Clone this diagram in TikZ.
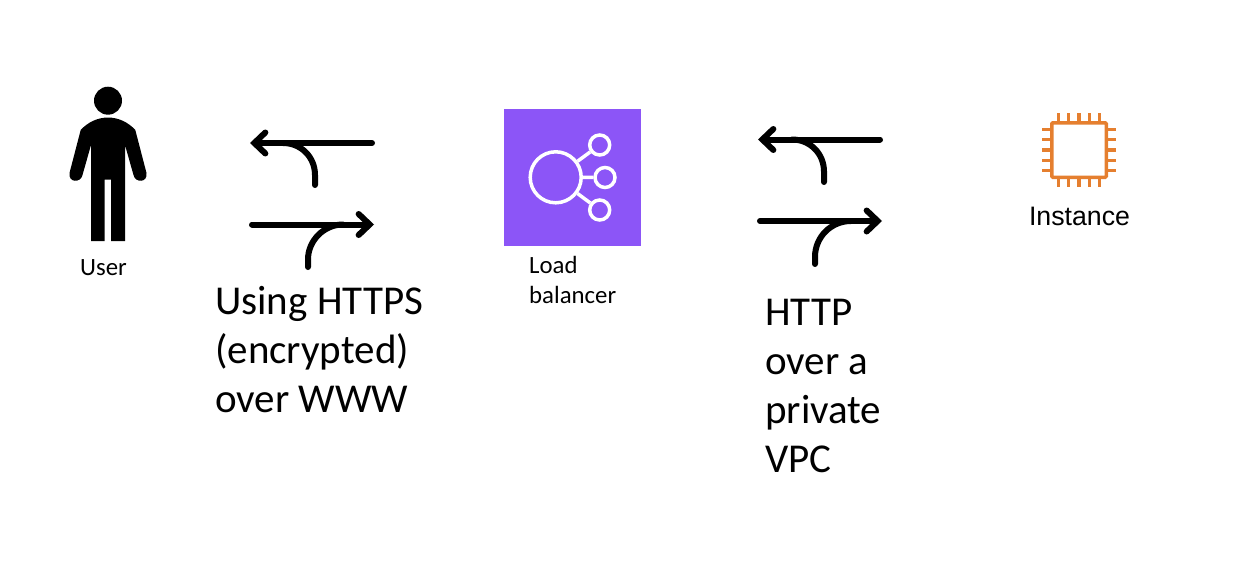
\documentclass[tikz,border=0pt]{standalone}
\usepackage{xcolor}
\usepackage{fontspec}
\setmainfont{Carlito}
\newfontfamily\arialfont{Liberation Sans}
\usetikzlibrary{arrows.meta, calc}
\definecolor{lbpurple}{HTML}{8C55F7}
\definecolor{chiporange}{HTML}{E57F2F}

\begin{document}
\begin{tikzpicture}[
        x=1pt, y=-1pt,
        big/.style={anchor=north west, inner sep=0pt, align=left, font=\fontsize{41}{49}\selectfont},
        small/.style={inner sep=0pt, align=left, font=\fontsize{24.8}{30}\selectfont},
        arr/.style={-{Straight Barb[length=11pt, width=21pt, line cap=round, line width=6pt]}, line width=6pt, line cap=round},
        branch/.style={line width=6pt, line cap=round},
        hubring/.style={draw=white, circle, line width=3.5pt, inner sep=0pt},
        spoke/.style={draw=white, line width=3.5pt},
        pin/.style={draw=chiporange, line width=3.5pt}
      ]
        \useasboundingbox (0,0) rectangle (1248,586);
        % user
        \fill[black] (108,100.7) circle (14);
        \fill[black] (80.7,130) .. controls (88,122) and (98,117.5) .. (108,117.5)
          .. controls (118,117.5) and (128,122) .. (135.3,130)
          -- (146.5,173) .. controls (148,183) and (135,183) .. (133.5,175)
          -- (125,145) -- (125,241) -- (111,241) -- (111,179.5) -- (104.5,179.5)
          -- (104.5,241) -- (91,241) -- (91,145) -- (82.5,175)
          .. controls (81,183) and (68,183) .. (69.5,173) -- cycle;
        \node[small] (user) at (103.5,267.5) {User};
        % left pair
        \coordinate (l1a) at (372,143);
        \coordinate (l1b) at (250,143);
        \coordinate (l1c) at (315,185);
        \coordinate (l1d) at (283,143);
        \coordinate (l2a) at (252,224.5);
        \coordinate (l2b) at (374,224.5);
        \coordinate (l2c) at (308,267);
        \coordinate (l2d) at (343,224.5);
        \draw[arr] (l1a) -- (l1b);
        \draw[branch] (l1c) -- ++(0,-10) .. controls +(0,-18) and +(18,0) .. (l1d);
        \draw[arr] (l2a) -- (l2b);
        \draw[branch] (l2c) -- ++(0,-7.5) .. controls +(0,-19) and +(-19,0) .. (l2d);
        \node[big] (leftlabel) at (215,286.5) {Using HTTPS\\(encrypted)\\over WWW};
        % load balancer
        \node[fill=lbpurple, minimum size=137pt, inner sep=0pt] (lb) at (572.5,177.5) {};
        \node[hubring, minimum size=51pt] (hub) at (555.7,177.3) {};
        \node[hubring, minimum size=20pt] (n1) at (599.7,145) {};
        \node[hubring, minimum size=20pt] (n2) at (605,177.5) {};
        \node[hubring, minimum size=20pt] (n3) at (599.7,210) {};
        \draw[spoke] (hub) -- (n1);
        \draw[spoke] (hub) -- (n2);
        \draw[spoke] (hub) -- (n3);
        \node[small, anchor=north west] (lblabel) at (529,256.5) {Load\\balancer};
        % right pair
        \coordinate (r1a) at (880,139.5);
        \coordinate (r1b) at (758,139.5);
        \coordinate (r1c) at (824,182);
        \coordinate (r1d) at (792,139.5);
        \coordinate (r2a) at (760,221);
        \coordinate (r2b) at (882,221);
        \coordinate (r2c) at (815,264);
        \coordinate (r2d) at (851,221);
        \draw[arr] (r1a) -- (r1b);
        \draw[branch] (r1c) -- ++(0,-10.5) .. controls +(0,-18) and +(18,0) .. (r1d);
        \draw[arr] (r2a) -- (r2b);
        \draw[branch] (r2c) -- ++(0,-7) .. controls +(0,-20) and +(-20,0) .. (r2d);
        \node[big] (rightlabel) at (765,298.5) {HTTP\\over a\\private\\VPC};
        % instance
        \node[draw=chiporange, line width=3.5pt, minimum size=54.5pt, inner sep=0pt, rounded corners=1pt] (chip) at (1079,150) {};
        \foreach \i in {-2,...,2} {
          \draw[pin] ($(chip.north)+(\i*10.35,0)$) -- ++(0,-8);
          \draw[pin] ($(chip.south)+(\i*10.35,0)$) -- ++(0,8);
          \draw[pin] ($(chip.west)+(0,\i*10.35)$) -- ++(-8,0);
          \draw[pin] ($(chip.east)+(0,\i*10.35)$) -- ++(8,0);
        }
        \node[inner sep=0pt, font=\arialfont\fontsize{26.7}{30}\selectfont] (instance) at (1079.5,216) {Instance};
      \end{tikzpicture}
\end{document}
